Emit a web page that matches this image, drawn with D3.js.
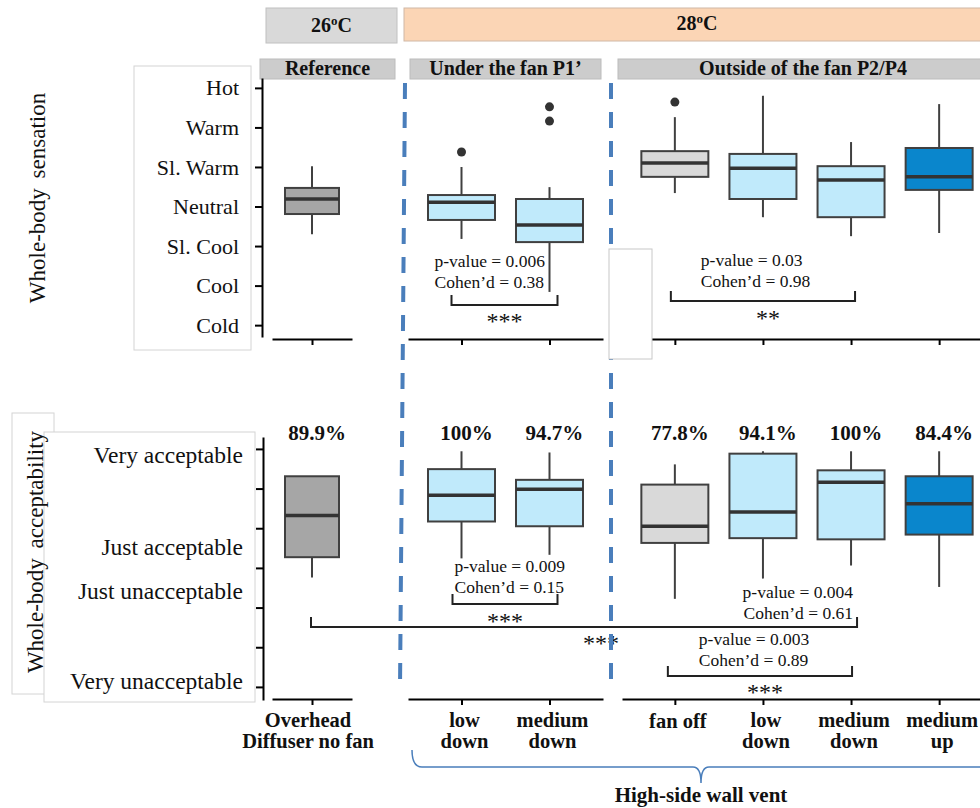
<!DOCTYPE html>
<html>
<head>
<meta charset="utf-8">
<script src="https://cdn.jsdelivr.net/npm/d3@7"></script>
<style>
body { margin: 0; background: #fff; }
svg text { font-family: "Liberation Serif", "Times New Roman", serif; fill: #111; }
</style>
</head>
<body>
<div id="chart"></div>
<script>
// categories, left to right
var catNames = [["Overhead", "Diffuser no fan"], ["low", "down"], ["medium", "down"], ["fan off"],
                ["low", "down"], ["medium", "down"], ["medium", "up"]];
var catGroup = [0, 1, 1, 2, 2, 2, 2];
var groupNames = ["Reference", "Under the fan P1’", "Outside of the fan P2/P4"];
var tempNames = ["26", "28"];
var bottomGroupName = "High-side wall vent";

// whole-body sensation, -3 (cold) .. +3 (hot)
var sensLabels = ["Cold", "Cool", "Sl. Cool", "Neutral", "Sl. Warm", "Warm", "Hot"];
var sensTicks = [-3, -2, -1, 0, 1, 2, 3];
var sensLo  = [-0.70, -0.82, -2.16, 0.34, -0.27, -0.75, -0.67];
var sensQ1  = [-0.19, -0.34, -0.90, 0.75, 0.19, -0.27, 0.42];
var sensMed = [0.19, 0.11, -0.47, 1.10, 0.97, 0.67, 0.75];
var sensQ3  = [0.47, 0.29, 0.19, 1.40, 1.33, 1.02, 1.48];
var sensHi  = [1.02, 1.00, 0.49, 2.26, 2.80, 1.63, 2.59];
var sensOut = [[], [1.38], [2.52, 2.16], [2.64], [], [], []];

// whole-body acceptability, -1 (very unacceptable) .. +1 (very acceptable)
var accLabels = ["Very acceptable", "Just acceptable", "Just unacceptable", "Very unacceptable"];
var accLabelVal = [0.95, 0.18, -0.19, -0.95];
var accTicks = [-1, -2 / 3, -1 / 3, 0, 1 / 3, 2 / 3, 1];
var accLo  = [-0.08, 0.08, 0.11, -0.26, -0.09, 0.02, -0.16];
var accQ1  = [0.09, 0.39, 0.35, 0.21, 0.25, 0.24, 0.28];
var accMed = [0.44, 0.61, 0.66, 0.35, 0.47, 0.72, 0.54];
var accQ3  = [0.77, 0.83, 0.74, 0.70, 0.96, 0.82, 0.77];
var accHi  = [0.77, 0.98, 0.97, 0.87, 0.98, 0.98, 0.98];
var accPct = ["89.9", "100", "94.7", "77.8", "94.1", "100", "84.4"];

// pairwise tests
var sensTests = [{a: 1, b: 2, p: "0.006", d: "0.38", sig: "***"},
                 {a: 3, b: 5, p: "0.03", d: "0.98", sig: "**"}];
var accTests = [{a: 1, b: 2, p: "0.009", d: "0.15", sig: "***"},
                {a: 0, b: 5, p: "0.004", d: "0.61", sig: "***"},
                {a: 3, b: 5, p: "0.003", d: "0.89", sig: "***"}];

var boxFill = ["#a6a6a6", "#c0eafb", "#c0eafb", "#d9d9d9", "#c0eafb", "#c0eafb", "#0a86cc"];
var boxW = [54, 67, 67, 67, 67, 67, 67];

var width = 980, height = 808;
var svg = d3.select("#chart").append("svg")
    .attr("width", width).attr("height", height)
    .style("display", "block");

// x: one point scale per group
var xs = [
    d3.scalePoint().domain([0]).range([272, 352]).padding(0.5),
    d3.scalePoint().domain([1, 2]).range([408, 603]).padding(0.608),
    d3.scalePoint().domain([3, 4, 5, 6]).range([622, 992]).padding(0.6)
];
function xc(i) { return xs[catGroup[i]](i); }

var ySens = d3.scaleLinear().domain([-3.3, 3.25]).range([337, 78]);
var yAcc = d3.scaleLinear().domain([-1.11, 1.1]).range([700, 437]);

// label boxes (text frames of the original figure)
svg.append("rect").attr("x", 134).attr("y", 66).attr("width", 117).attr("height", 284)
    .attr("fill", "#fff").attr("stroke", "#d4d4d4");
svg.append("rect").attr("x", 12).attr("y", 413).attr("width", 42).attr("height", 281)
    .attr("fill", "#fff").attr("stroke", "#d4d4d4");
svg.append("rect").attr("x", 44).attr("y", 432).attr("width", 211).attr("height", 270)
    .attr("fill", "#fff").attr("stroke", "#d4d4d4");

// temperature headers
var tempBoxes = [{x: 266, y: 8, w: 131, h: 35, fill: "#d9d9d9", stroke: "#c0c0c0"},
                 {x: 404, y: 8, w: 586, h: 33, fill: "#fbd5b5", stroke: "#d0b8a6"}];
tempBoxes.forEach(function(b, i) {
    svg.append("rect").attr("x", b.x).attr("y", b.y).attr("width", b.w).attr("height", b.h)
        .attr("fill", b.fill).attr("stroke", b.stroke);
    var t = svg.append("text").attr("x", b.x + b.w / 2).attr("y", i === 0 ? 32 : 30)
        .attr("text-anchor", "middle").attr("font-weight", "bold").attr("font-size", 20);
    t.append("tspan").text(tempNames[i]);
    t.append("tspan").attr("font-size", 13).attr("dy", -7).text("o");
    t.append("tspan").attr("dy", 7).text("C");
});

// group strip headers
var strips = [{x: 260, w: 135}, {x: 410, w: 191}, {x: 618, w: 372}];
strips.forEach(function(s, i) {
    svg.append("rect").attr("x", s.x).attr("y", 59).attr("width", s.w).attr("height", 20)
        .attr("fill", "#cccccc").attr("stroke", "#bcbcbc");
    svg.append("text").attr("x", i === 2 ? 803 : s.x + s.w / 2).attr("y", 75)
        .attr("text-anchor", "middle").attr("font-weight", "bold").attr("font-size", 20)
        .text(groupNames[i]);
});

// y axes
var ga = svg.append("g").attr("transform", "translate(262,0)")
    .call(d3.axisLeft(ySens).tickValues(sensTicks).tickSize(7).tickSizeOuter(0).tickPadding(16)
        .tickFormat(function(d) { return sensLabels[d + 3]; }));
ga.selectAll("text").attr("font-size", 22).attr("font-family", null).attr("fill", "#111");
ga.selectAll("path,line").attr("stroke", "#000").attr("stroke-width", 2);

var gb = svg.append("g").attr("transform", "translate(263,0)")
    .call(d3.axisLeft(yAcc).tickValues(accTicks).tickSize(7).tickSizeOuter(0).tickFormat(""));
gb.selectAll("path,line").attr("stroke", "#000").attr("stroke-width", 2);

svg.selectAll(".accLab").data(accLabels).enter().append("text")
    .attr("x", 243).attr("y", function(d, i) { return yAcc(accLabelVal[i]); })
    .attr("dy", "0.35em").attr("text-anchor", "end").attr("font-size", 23.5)
    .text(function(d) { return d; });

// y titles
svg.append("text").attr("transform", "translate(45,198) rotate(-90)")
    .attr("text-anchor", "middle").attr("font-size", 23).attr("word-spacing", 4)
    .text("Whole-body sensation");
svg.append("text").attr("transform", "translate(43,552) rotate(-90)")
    .attr("text-anchor", "middle").attr("font-size", 23).attr("word-spacing", 4)
    .text("Whole-body acceptability");

// x axis segments
[339, 699].forEach(function(yy) {
    xs.forEach(function(sc) {
        var g = svg.append("g").attr("transform", "translate(0," + yy + ")")
            .call(d3.axisBottom(sc).tickSize(6).tickSizeOuter(0).tickFormat(""));
        g.selectAll("path,line").attr("stroke", "#000").attr("stroke-width", 2);
    });
});

// category labels
catNames.forEach(function(lines, i) {
    var t = svg.append("text").attr("x", xc(i) + 3).attr("y", lines.length === 1 ? 728 : 727)
        .attr("text-anchor", "middle").attr("font-weight", "bold").attr("font-size", 20.5);
    lines.forEach(function(l, k) {
        t.append("tspan").attr("x", xc(i) + (i === 0 ? -4 : 3)).attr("dy", k === 0 ? 0 : 21).text(l);
    });
});

// boxplots
function drawBoxes(y, lo, q1, med, q3, hi, outs) {
    var g = svg.append("g");
    catNames.forEach(function(c, i) {
        var x = xc(i), w = boxW[i];
        g.append("line").attr("x1", x).attr("x2", x).attr("y1", y(q3[i])).attr("y2", y(hi[i]))
            .attr("stroke", "#404040").attr("stroke-width", 2);
        g.append("line").attr("x1", x).attr("x2", x).attr("y1", y(q1[i])).attr("y2", y(lo[i]))
            .attr("stroke", "#404040").attr("stroke-width", 2);
        g.append("rect").attr("x", x - w / 2).attr("y", y(q3[i])).attr("width", w)
            .attr("height", y(q1[i]) - y(q3[i]))
            .attr("fill", boxFill[i]).attr("stroke", "#404040").attr("stroke-width", 2);
        g.append("line").attr("x1", x - w / 2).attr("x2", x + w / 2)
            .attr("y1", y(med[i])).attr("y2", y(med[i]))
            .attr("stroke", "#333").attr("stroke-width", 3.5);
        if (outs) outs[i].forEach(function(o) {
            g.append("circle").attr("cx", x).attr("cy", y(o)).attr("r", 4.5).attr("fill", "#333");
        });
    });
}
drawBoxes(ySens, sensLo, sensQ1, sensMed, sensQ3, sensHi, sensOut);
drawBoxes(yAcc, accLo, accQ1, accMed, accQ3, accHi, null);

// percent acceptable
svg.selectAll(".pct").data(accPct).enter().append("text")
    .attr("x", function(d, i) { return xc(i) + 5; }).attr("y", 440)
    .attr("text-anchor", "middle").attr("font-weight", "bold").attr("font-size", 21)
    .text(function(d) { return d + "%"; });

// significance brackets
function drawTests(y, tests, pos) {
    tests.forEach(function(t, k) {
        var p = pos[k];
        var x1 = xc(t.a) + p.x1, x2 = xc(t.b) + p.x2, yb = y(p.lvl);
        svg.append("path").attr("d", "M" + x1 + "," + (yb - 10) + "V" + yb + "H" + x2 + "V" + (yb - 10))
            .attr("fill", "none").attr("stroke", "#222").attr("stroke-width", 2);
        var tx = p.anchor === "end" ? x2 + p.tx : x1 + p.tx;
        svg.append("text").attr("x", tx).attr("y", yb + p.t1).attr("text-anchor", p.anchor)
            .attr("font-size", 17.5).text("p-value = " + t.p);
        svg.append("text").attr("x", tx).attr("y", yb + p.t1 + 21).attr("text-anchor", p.anchor)
            .attr("font-size", 17.5).text("Cohen’d = " + t.d);
        svg.append("text").attr("x", (x1 + x2) / 2 + p.sx).attr("y", yb + p.sy)
            .attr("text-anchor", "middle").attr("font-size", 24).attr("fill", "#222").text(t.sig);
    });
}
drawTests(ySens, sensTests, [
    {lvl: -2.49, x1: -10, x2: 8, tx: -17, anchor: "start", t1: -38, sx: 0, sy: 24},
    {lvl: -2.39, x1: -4, x2: 4, tx: 30, anchor: "start", t1: -35, sx: 5, sy: 25}
]);
drawTests(yAcc, accTests, [
    {lvl: -0.303, x1: -9, x2: 8, tx: 2, anchor: "start", t1: -32, sx: 0, sy: 25},
    {lvl: -0.497, x1: -1, x2: 6, tx: -4, anchor: "end", t1: -29, sx: 17, sy: 24},
    {lvl: -0.908, x1: -7, x2: 1, tx: 31, anchor: "start", t1: -31, sx: 5, sy: 24}
]);

// dashed separators
[[405, 400], [611, 611]].forEach(function(d) {
    svg.append("line").attr("x1", d[0]).attr("x2", d[1]).attr("y1", 83).attr("y2", 690)
        .attr("stroke", "#4a7ebb").attr("stroke-width", 4).attr("stroke-dasharray", "16,13");
});
svg.append("rect").attr("x", 609).attr("y", 249).attr("width", 43).attr("height", 110)
    .attr("fill", "#fff").attr("stroke", "#c8c8c8");

// brace for high-side wall vent
svg.append("path")
    .attr("d", "M412,750Q412,767 422,767L693,767Q701,767 701,783Q701,767 709,767L990,767")
    .attr("fill", "none").attr("stroke", "#4a7ebb").attr("stroke-width", 1.5);
svg.append("text").attr("x", 701).attr("y", 802).attr("text-anchor", "middle")
    .attr("font-weight", "bold").attr("font-size", 21).text(bottomGroupName);
</script>
</body>
</html>
